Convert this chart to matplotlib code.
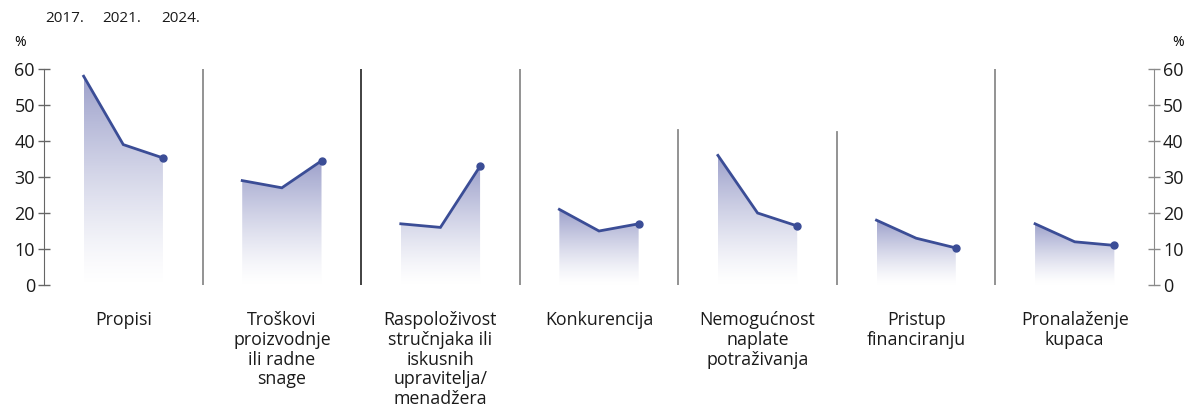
import matplotlib
matplotlib.use("Agg")
import matplotlib.pyplot as plt
import numpy as np
from matplotlib.colors import LinearSegmentedColormap
from matplotlib.patches import Polygon

# ── Podaci ──────────────────────────────────────────────────────────────────
godine = ["2017.", "2021.", "2024."]
kategorije = [
    "Propisi",
    "Troškovi\nproizvodnje\nili radne\nsnage",
    "Raspoloživost\nstručnjaka ili\niskusnih\nupravitelja/\nmenadžera",
    "Konkurencija",
    "Nemogućnost\nnaplate\npotraživanja",
    "Pristup\nfinanciranju",
    "Pronalaženje\nkupaca",
]
v2017 = [58, 29, 17, 21, 36, 18, 17]
v2021 = [39, 27, 16, 15, 20, 13, 12]
v2024 = [35.3, 34.5, 33, 17, 16.4, 10.3, 11]
# visina razdjelnika između skupina (u %)
razdjelnici = [60, 60, 60, 43, 42.5, 60]

C_LINE = "#3b4d96"
C_TOP = "#9da1cb"
C_SEP = "#8a8a8a"
C_AX = "#666666"

plt.rcParams["font.family"] = ["Open Sans", "DejaVu Sans"]

fig = plt.figure(figsize=(11.95, 4.12), dpi=100)
ax = fig.add_axes([44 / 1195, 1 - 285 / 412, (1154 - 44) / 1195, 216 / 412])
ax.set_xlim(-0.5, 6.5)
ax.set_ylim(0, 60)

cmap = LinearSegmentedColormap.from_list("grad", ["#ffffff", C_TOP])
off = np.array([-0.25, 0.0, 0.25])

for i in range(len(kategorije)):
    xs = i + off
    ys = np.array([v2017[i], v2021[i], v2024[i]])
    top = ys.max()
    poly = Polygon(np.column_stack([np.r_[xs, xs[::-1]], np.r_[ys, 0, 0, 0]]),
                   closed=True, facecolor="none", edgecolor="none")
    ax.add_patch(poly)
    grad = np.linspace(1, 0, 200).reshape(-1, 1) ** 1.3
    im = ax.imshow(grad, extent=(xs[0], xs[-1], 0, top), aspect="auto",
                   cmap=cmap, vmin=0, vmax=1, origin="upper", zorder=1)
    im.set_clip_path(poly)
    ax.plot(xs, ys, color=C_LINE, lw=2, zorder=3, solid_joinstyle="miter")
    ax.plot(xs[-1], ys[-1], "o", color=C_LINE, ms=5, zorder=4)
    ax.text(i, -7.2, kategorije[i], ha="center", va="top", fontsize=12.8,
            linespacing=1.13, color="#1a1a1a")

for j, h in enumerate(razdjelnici):
    col = "#333333" if j == 1 else C_SEP
    ax.plot([j + 0.5, j + 0.5], [0, h], color=col, lw=1.3, zorder=2)

for s in ["top", "bottom"]:
    ax.spines[s].set_visible(False)
ax.spines["left"].set_color(C_AX)
ax.spines["right"].set_visible(False)
ax.set_xticks([])
ax.set_yticks(range(0, 61, 10))
ax.tick_params(axis="y", direction="inout", length=9, width=1, color=C_AX,
               labelsize=13, pad=2, labelcolor="#1a1a1a")

ax2 = ax.twinx()
ax2.set_ylim(0, 60)
for s in ["top", "bottom", "left"]:
    ax2.spines[s].set_visible(False)
ax2.spines["right"].set_color(C_SEP)
ax2.set_yticks(range(0, 61, 10))
ax2.tick_params(axis="y", direction="inout", length=9, width=1, color=C_SEP,
                labelsize=13, pad=2, labelcolor="#1a1a1a")

fig.text(20 / 1195, 1 - 42 / 412, "%", ha="center", va="center", fontsize=10)
fig.text(1178 / 1195, 1 - 42 / 412, "%", ha="center", va="center", fontsize=10)
for x, g in zip([65, 122, 181], godine):
    fig.text(x / 1195, 1 - 18 / 412, g, ha="center", va="center", fontsize=11,
             color="#1a1a1a")

fig.savefig("out.png", dpi=100)
